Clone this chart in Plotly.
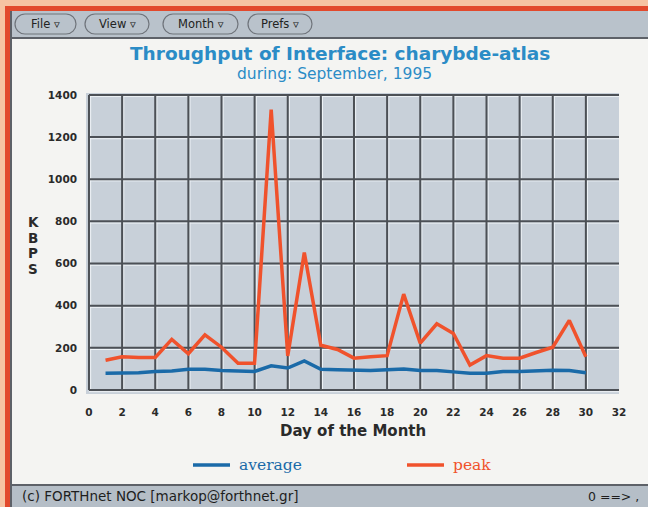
import plotly.graph_objects as go

# Daily throughput for one interface, September 1995 (KBPS)
days = list(range(1, 31))
average = [80, 80, 82, 88, 90, 98, 98, 92, 88, 88,
           115, 104, 138, 98, 96, 94, 92, 96, 100, 92,
           92, 86, 80, 80, 88, 88, 92, 94, 92, 82]
peak = [141, 158, 154, 154, 240, 172, 262, 203, 127, 127,
        1330, 162, 652, 212, 192, 151, 158, 163, 455, 222,
        314, 268, 118, 163, 151, 151, 178, 203, 330, 158]

x_ticks = list(range(0, 33, 2))
y_ticks = list(range(0, 1401, 200))
v_grid = list(range(0, 31, 2))

menu_items = ["File", "View", "Month", "Prefs"]
menu_spans = [(15, 76), (85, 149), (163, 238), (248, 312)]

W, H = 648, 507
AVG_COLOR = "#1a6aa8"
PEAK_COLOR = "#f0522c"


def px(x):
    return x / W


def py(y):
    return 1 - y / H


def rect(x0, y0, x1, y1, color):
    return dict(type="rect", xref="paper", yref="paper",
                x0=px(x0), x1=px(x1), y0=py(y1), y1=py(y0),
                fillcolor=color, line=dict(width=0), layer="above")


def capsule(x0, y0, x1, y1):
    r = (y1 - y0) / 2
    k = r * 0.55
    pts = [
        f"M{px(x0 + r)},{py(y0)}",
        f"L{px(x1 - r)},{py(y0)}",
        f"C{px(x1 - r + k)},{py(y0)} {px(x1)},{py(y0 + r - k)} {px(x1)},{py(y0 + r)}",
        f"C{px(x1)},{py(y0 + r + k)} {px(x1 - r + k)},{py(y1)} {px(x1 - r)},{py(y1)}",
        f"L{px(x0 + r)},{py(y1)}",
        f"C{px(x0 + r - k)},{py(y1)} {px(x0)},{py(y1 - r + k)} {px(x0)},{py(y1 - r)}",
        f"C{px(x0)},{py(y0 + r - k)} {px(x0 + r - k)},{py(y0)} {px(x0 + r)},{py(y0)} Z",
    ]
    return dict(type="path", xref="paper", yref="paper", path=" ".join(pts),
                fillcolor="rgba(0,0,0,0)", line=dict(color="#6f747b", width=1.2),
                layer="above")


def label(x, y, text, font, xanchor="center"):
    return dict(x=px(x), y=py(y), xref="paper", yref="paper", text=text,
                showarrow=False, xanchor=xanchor, yanchor="middle", font=font)


fig = go.Figure()
fig.add_trace(go.Scatter(x=days, y=average, mode="lines", name="average",
                         line=dict(color=AVG_COLOR, width=3.5)))
fig.add_trace(go.Scatter(x=days, y=peak, mode="lines", name="peak",
                         line=dict(color=PEAK_COLOR, width=3.5)))

shapes = []
# window chrome around the white panel
shapes.append(rect(0, 0, W, 6, "#f6c3a2"))
shapes.append(rect(0, 0, 5, H, "#f6c3a2"))
shapes.append(rect(5, 6, W, 11, "#e2492c"))
shapes.append(rect(5, 6, 10, H, "#e2492c"))
shapes.append(rect(10, 11, 12, H, "#5d6168"))
shapes.append(rect(12, 11, W, 37, "#b9c2cb"))
shapes.append(rect(12, 37, W, 39, "#5d6168"))
shapes.append(rect(12, 484, W, 486, "#5d6168"))
shapes.append(rect(12, 486, W, H, "#b5bec7"))
for (a, b) in menu_spans:
    shapes.append(capsule(a, 14, b, 34))

# beveled grid inside the plot
for v in v_grid:
    shapes.append(dict(type="line", xref="x", yref="y", x0=v + 0.1, x1=v + 0.1,
                       y0=-8, y1=1400, line=dict(color="#eef2f6", width=1), layer="below"))
for h in y_ticks:
    shapes.append(dict(type="line", xref="x", yref="y", x0=0, x1=32,
                       y0=h - 8, y1=h - 8, line=dict(color="#eef2f6", width=1), layer="below"))
for v in v_grid:
    shapes.append(dict(type="line", xref="x", yref="y", x0=v, x1=v,
                       y0=0, y1=1400, line=dict(color="#4c5056", width=2), layer="below"))
for h in y_ticks:
    shapes.append(dict(type="line", xref="x", yref="y", x0=0, x1=32,
                       y0=h, y1=h, line=dict(color="#4c5056", width=2), layer="below"))

# legend samples
legend_entries = [("average", AVG_COLOR, 193), ("peak", PEAK_COLOR, 407)]
for name, color, x0 in legend_entries:
    shapes.append(dict(type="line", xref="paper", yref="paper",
                       x0=px(x0), x1=px(x0 + 37), y0=py(465), y1=py(465),
                       line=dict(color=color, width=3.5), layer="above"))

annotations = []
for name, (a, b) in zip(menu_items, menu_spans):
    annotations.append(label((a + b) / 2, 24, f"{name} ▿",
                             dict(family="DejaVu Sans", size=11.5, color="#222222")))

annotations.append(label(340, 54, "Throughput of Interface: charybde-atlas",
                         dict(family="DejaVu Sans", size=18.5, color="#2b8cc6", weight="bold")))
annotations.append(label(334, 74, "during: September, 1995",
                         dict(family="DejaVu Sans", size=15.5, color="#2b8cc6")))
for i, ch in enumerate("KBPS"):
    annotations.append(label(33, 222 + i * 15.5, ch,
                             dict(family="DejaVu Sans", size=13.5, color="#2a2a2a", weight="bold")))
annotations.append(label(353, 431, "Day of the Month",
                         dict(family="DejaVu Sans", size=15, color="#2a2a2a", weight="bold")))
for name, color, x0 in legend_entries:
    annotations.append(label(x0 + 44, 465, name,
                             dict(family="DejaVu Serif", size=15.5, color=color), xanchor="left"))
annotations.append(label(20, 496, "(c) FORTHnet NOC [markop@forthnet.gr]",
                         dict(family="DejaVu Sans", size=13.5, color="#1e1e1e"), xanchor="left"))
annotations.append(label(641, 496, "0 ==> ,",
                         dict(family="DejaVu Sans", size=12.5, color="#1e1e1e"), xanchor="right"))

tick_font = dict(family="DejaVu Sans", size=10.5, color="#2a2a2a", weight="bold")

fig.update_layout(
    width=W, height=H,
    margin=dict(l=0, r=0, t=0, b=0, autoexpand=False),
    paper_bgcolor="#f4f4f2",
    plot_bgcolor="#c8d0d9",
    showlegend=False,
    xaxis=dict(domain=[px(86), px(619)], range=[-0.18, 32], tickvals=x_ticks,
               showgrid=False, zeroline=False, showline=False, ticks="",
               tickfont=tick_font, ticklabelstandoff=10, fixedrange=True),
    yaxis=dict(domain=[py(394), py(93)], range=[-19, 1409], tickvals=y_ticks,
               showgrid=False, zeroline=False, showline=False, ticks="",
               tickfont=tick_font, ticklabelstandoff=8, fixedrange=True),
    shapes=shapes,
    annotations=annotations,
)

fig.write_html("out.html")
